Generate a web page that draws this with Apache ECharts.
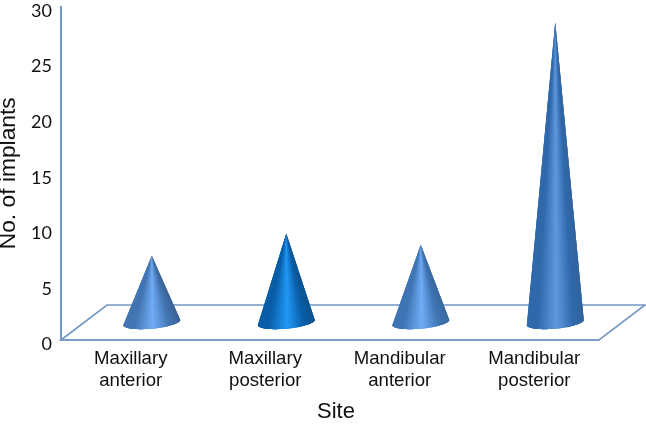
<!DOCTYPE html>
<html>
<head>
<meta charset="utf-8">
<style>html,body{margin:0;padding:0;background:#fff}#c{width:646px;height:425px}</style>
<script src="https://cdn.jsdelivr.net/npm/echarts@6/dist/echarts.min.js"></script>
</head>
<body>
<div id="c"></div>
<script>
var categories = ['Maxillary\nanterior', 'Maxillary\nposterior', 'Mandibular\nanterior', 'Mandibular\nposterior'];
var implants = [6, 8, 7, 27];
var edgeColors = ['#4375B2', '#0A5EA8', '#3F75B4', '#3069AB'];
var shadeColors = ['#3A6496', '#0B558F', '#3A6AA0', '#33649E'];
var glowColors = ['#70ACF5', '#2098F5', '#70ACF5', '#5F98DE'];
var lineColor = '#7398C4';

var DEPTH_X = 46, DEPTH_Y = 35;
var chart = echarts.init(document.getElementById('c'), null, {renderer: 'canvas'});

function renderFloor(params, api) {
  var cs = params.coordSys;
  var x0 = cs.x, x1 = cs.x + cs.width, y = cs.y + cs.height;
  return {
    type: 'polygon',
    shape: {points: [[x0, y], [x0 + DEPTH_X, y - DEPTH_Y], [x1 + DEPTH_X, y - DEPTH_Y], [x1, y]]},
    style: {fill: 'rgba(255,255,255,0)', stroke: lineColor, lineWidth: 1.6}
  };
}

function coneShade(i, u) {
  if (u < 0.18) return edgeColors[i];
  if (u < 0.52) return echarts.color.lerp((u - 0.18) / 0.34, [edgeColors[i], glowColors[i]]);
  if (u < 0.82) return echarts.color.lerp((u - 0.52) / 0.30, [glowColors[i], edgeColors[i]]);
  return echarts.color.lerp((u - 0.82) / 0.18, [edgeColors[i], shadeColors[i]]);
}

function renderCone(params, api) {
  var i = params.dataIndex;
  var tip = api.coord([api.value(0), api.value(1)]);
  var base = api.coord([api.value(0), 0]);
  var cx = base[0] + DEPTH_X / 2 + 0.5;
  var cy = base[1] - DEPTH_Y / 2;
  var apex = [tip[0] + DEPTH_X / 2 + 0.5, tip[1] - DEPTH_Y / 2];
  var rx = 28.5, ry = 6.2, tilt = 2.5, steps = 40;
  function rim(k) {
    var t = Math.PI * k / steps;
    return [cx - rx * Math.cos(t), cy + ry * Math.sin(t) + tilt * Math.cos(t)];
  }
  var children = [];
  for (var k = 0; k < steps; k++) {
    var a = rim(k), b = rim(k + 1), pts = [apex, a];
    var c = coneShade(i, ((a[0] + b[0]) / 2 - (cx - rx)) / (2 * rx));
    // each strip reaches under the next one so no background shows through the seams
    for (var m = k + 1; m <= Math.min(k + 3, steps); m++) pts.push(rim(m));
    children.push({type: 'polygon', shape: {points: pts}, style: {fill: c}});
  }
  return {type: 'group', children: children};
}

chart.setOption({
  animation: false,
  backgroundColor: '#fff',
  grid: {left: 61, right: 47, top: 6.5, bottom: 85, containLabel: false, outerBoundsMode: 'none'},
  xAxis: {
    type: 'category',
    data: categories,
    axisTick: {show: false},
    axisLine: {lineStyle: {color: lineColor, width: 1.6}},
    axisLabel: {
      color: '#111', fontFamily: 'Liberation Sans', fontSize: 18.6,
      lineHeight: 22, margin: 8, interval: 0, padding: [0, 0, 0, 5]
    },
    name: 'Site',
    nameLocation: 'middle',
    nameGap: 61,
    nameTextStyle: {color: '#111', fontFamily: 'Liberation Sans', fontSize: 22, padding: [0, 0, 0, 12]}
  },
  yAxis: {
    type: 'value',
    min: 0,
    max: 30,
    interval: 5,
    splitLine: {show: false},
    axisTick: {show: false},
    axisLine: {show: true, lineStyle: {color: lineColor, width: 2}},
    axisLabel: {color: '#111', fontFamily: 'Lato', fontSize: 18, margin: 9, verticalAlign: 'top', lineHeight: 9},
    name: 'No. of implants',
    nameLocation: 'middle',
    nameGap: 31,
    nameTextStyle: {color: '#111', fontFamily: 'Liberation Sans', fontSize: 22.8}
  },
  series: [
    {type: 'custom', coordinateSystem: 'cartesian2d', silent: true, z: 1, clip: false,
     renderItem: renderFloor, data: [[0, 0]]},
    {type: 'custom', coordinateSystem: 'cartesian2d', silent: true, z: 2, clip: false,
     renderItem: renderCone, encode: {x: 0, y: 1},
     data: implants.map(function (v, i) { return [i, v]; })}
  ]
});
</script>
</body>
</html>
